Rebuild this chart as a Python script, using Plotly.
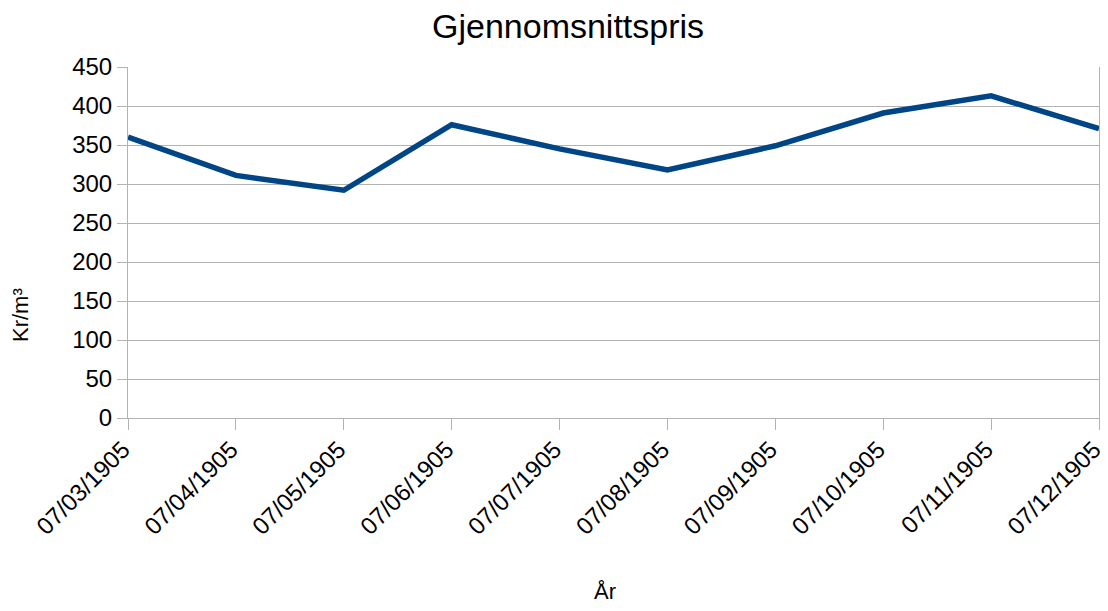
import plotly.graph_objects as go

categories = ["07/03/1905", "07/04/1905", "07/05/1905", "07/06/1905", "07/07/1905",
              "07/08/1905", "07/09/1905", "07/10/1905", "07/11/1905", "07/12/1905"]
prices = [360, 311, 292, 376, 345, 318, 349, 391, 413, 371]
y_ticks = [0, 50, 100, 150, 200, 250, 300, 350, 400, 450]

FONT = "Liberation Sans, Arial, sans-serif"
GRID = "#b3b3b3"

# page has an 8px body margin: figure offset by 8px, sized to avoid scrollbars
L, R, T, B = 120, 9, 59, 185
W, H = 1100, 595
PW = W - L - R

fig = go.Figure()
fig.add_trace(go.Scatter(
    x=categories, y=prices, mode="lines",
    line=dict(color="#004586", width=5.5),
))

fig.update_layout(
    width=W, height=H,
    margin=dict(l=L, r=R, t=T, b=B),
    paper_bgcolor="white", plot_bgcolor="white",
    showlegend=False,
    font=dict(family=FONT, color="black"),
    annotations=[
        dict(text="Gjennomsnittspris", xref="paper", yref="paper",
             x=(560 - L) / PW, y=1, yshift=41, showarrow=False,
             font=dict(size=34, family=FONT), xanchor="center", yanchor="middle"),
        dict(text="Kr/m³", xref="paper", yref="paper",
             x=0, xshift=-108, y=(418 - 315) / (418 - 67), showarrow=False,
             textangle=-90, font=dict(size=22, family=FONT),
             xanchor="center", yanchor="middle"),
        dict(text="År", xref="paper", yref="paper",
             x=(597 - L) / PW, y=0, yshift=-173, showarrow=False,
             font=dict(size=22, family=FONT), xanchor="center", yanchor="middle"),
    ],
)

fig.update_xaxes(
    type="category", range=[0, len(categories) - 1], automargin=False,
    showgrid=False, showline=True, linecolor=GRID, linewidth=1,
    ticks="outside", ticklen=11, tickcolor=GRID, tickwidth=1,
    tickangle=-45, tickfont=dict(size=24, family=FONT),
    ticklabelshift=-5, ticklabelstandoff=-4,
    zeroline=False,
)
fig.update_yaxes(
    range=[0, 450], tickvals=y_ticks, automargin=False,
    showgrid=True, gridcolor=GRID, gridwidth=1,
    showline=True, linecolor=GRID, linewidth=1, mirror=True,
    ticks="outside", ticklen=10, tickcolor=GRID, tickwidth=1,
    tickfont=dict(size=24, family=FONT), zeroline=False,
)

fig.write_html("out.html")
